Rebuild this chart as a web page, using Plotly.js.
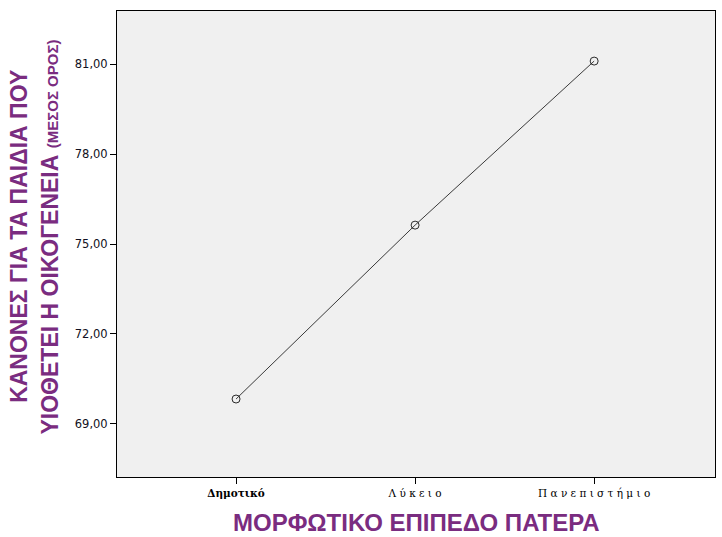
<!DOCTYPE html>
<html>
<head>
<meta charset="utf-8">
<script src="https://cdn.plot.ly/plotly-3.0.1.min.js"></script>
<style>body{margin:0;background:#fff}#chart{width:722px;height:537px}</style>
</head>
<body>
<div id="chart"></div>
<script>
const categories = ["Δημοτικό", "Λύκειο", "Πανεπιστήμιο"];
const meanValues = [69.83, 75.63, 81.1];
const yTickValues = [69, 72, 75, 78, 81];

const purple = "#7a2c80";

const trace = {
  type: "scatter",
  mode: "lines+markers",
  x: [0, 1, 2],
  y: meanValues,
  line: {color: "#3a3a3a", width: 1},
  marker: {symbol: "circle-open", size: 8, color: "#2a2a2a", line: {width: 1}},
  hoverinfo: "skip"
};

const layout = {
  width: 722, height: 537,
  margin: {l: 117, r: 7, t: 11, b: 60},
  paper_bgcolor: "#ffffff",
  plot_bgcolor: "#f0f0f0",
  separators: ",.",
  showlegend: false,
  xaxis: {
    range: [-0.665, 2.675],
    tickvals: [0, 1, 2],
    ticktext: [
      "<b>Δημοτικό</b>",
      "Λ ύ κ ε ι ο",
      "Π α ν ε π ι σ τ ή μ ι ο"
    ],
    ticks: "outside", ticklen: 6, tickcolor: "#000", tickwidth: 1,
    tickfont: {family: "DejaVu Serif", size: 10.5, color: "#000"},
    showline: true, linecolor: "#000", linewidth: 1, mirror: true,
    showgrid: false, zeroline: false, fixedrange: true
  },
  yaxis: {
    range: [67.23, 82.77],
    tickvals: yTickValues,
    tickformat: ".2f",
    ticks: "outside", ticklen: 6, tickcolor: "#000", tickwidth: 1,
    tickfont: {family: "DejaVu Sans", size: 11.5, color: "#111122"},
    showline: true, linecolor: "#000", linewidth: 1, mirror: true,
    showgrid: false, zeroline: false, fixedrange: true
  },
  annotations: [
    {
      text: "<b>ΚΑΝΟΝΕΣ ΓΙΑ ΤΑ ΠΑΙΔΙΑ ΠΟΥ</b>",
      xref: "paper", yref: "paper",
      x: -0.165, y: 0.516, xanchor: "center", yanchor: "middle",
      textangle: -90, showarrow: false,
      font: {family: "Liberation Sans", size: 23, color: purple}
    },
    {
      text: "<b>ΥΙΟΘΕΤΕΙ Η ΟΙΚΟΓΕΝΕΙΑ <span style=\"font-size:15px\">(ΜΕΣΟΣ ΟΡΟΣ)</span></b>",
      xref: "paper", yref: "paper",
      x: -0.112, y: 0.514, xanchor: "center", yanchor: "middle",
      textangle: -90, showarrow: false,
      font: {family: "Liberation Sans", size: 23, color: purple}
    },
    {
      text: "<b>ΜΟΡΦΩΤΙΚΟ ΕΠΙΠΕΔΟ ΠΑΤΕΡΑ</b>",
      xref: "paper", yref: "paper",
      x: 0.501, y: 0, yshift: -45, xanchor: "center", yanchor: "middle",
      showarrow: false,
      font: {family: "Liberation Sans", size: 24, color: purple}
    }
  ]
};

Plotly.newPlot("chart", [trace], layout, {displayModeBar: false, staticPlot: true});
</script>
</body>
</html>
